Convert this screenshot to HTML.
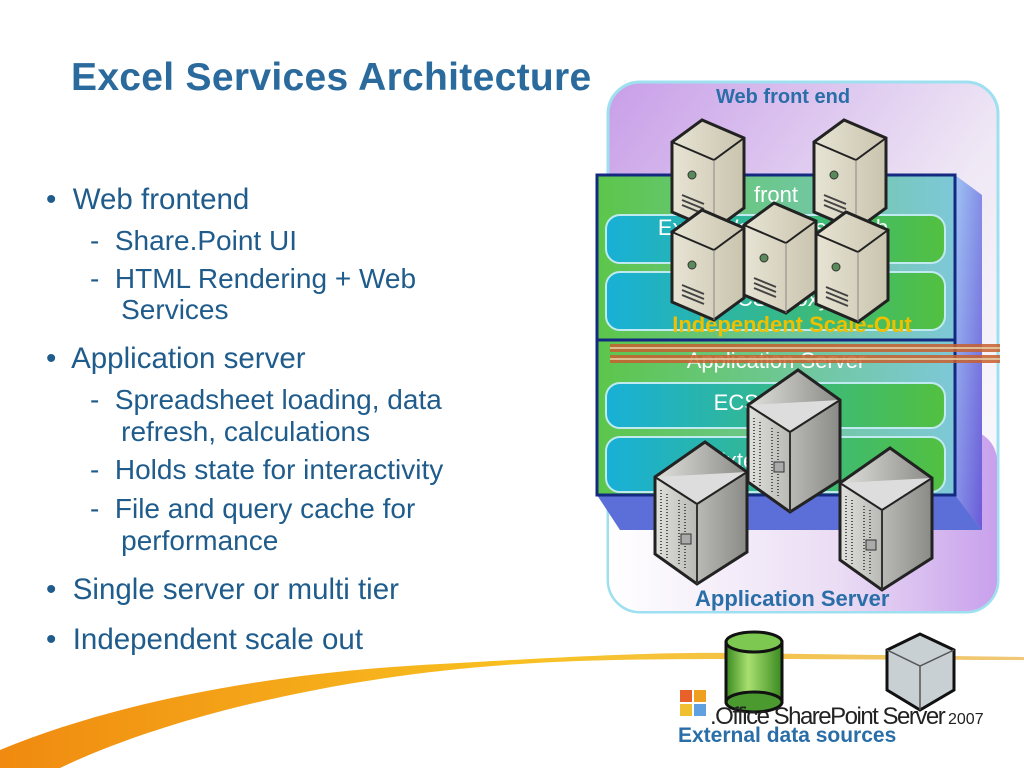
<!DOCTYPE html>
<html><head><style>
body{margin:0;width:1024px;height:768px;background:#fff;position:relative;overflow:hidden;font-family:"Liberation Sans",Arial,sans-serif;color:#1f5c8c}
.a{position:absolute;white-space:nowrap}
.t{font-size:29.5px;line-height:32px}
.s{font-size:28px}
</style></head><body>
<svg class="a" style="left:0;top:0" width="1024" height="768">
<defs>
<linearGradient id="pg" x1="0" y1="0" x2="1" y2="1"><stop offset="0" stop-color="#c89ee8"/><stop offset="0.55" stop-color="#efe8f5"/><stop offset="1" stop-color="#ffffff"/></linearGradient>
<linearGradient id="pg2" x1="0" y1="0" x2="1" y2="0"><stop offset="0" stop-color="#fff"/><stop offset="0.6" stop-color="#eadcf4"/><stop offset="1" stop-color="#c8a0ec"/></linearGradient>
<linearGradient id="gg" x1="0" y1="0" x2="1" y2="0"><stop offset="0" stop-color="#5cc64a"/><stop offset="1" stop-color="#7ec8d8"/></linearGradient>
<linearGradient id="bb" x1="0" y1="0" x2="1" y2="0"><stop offset="0" stop-color="#18b0d8"/><stop offset="1" stop-color="#52c040"/></linearGradient>
<linearGradient id="side" x1="0" y1="0" x2="1" y2="1"><stop offset="0" stop-color="#9fc4f4"/><stop offset="1" stop-color="#6a5ad8"/></linearGradient>
<linearGradient id="sw" x1="0" y1="0" x2="1" y2="0"><stop offset="0" stop-color="#f08a10"/><stop offset="0.5" stop-color="#f8c020"/><stop offset="1" stop-color="#f0c878"/></linearGradient>
<linearGradient id="beige" x1="0" y1="0" x2="1" y2="0"><stop offset="0" stop-color="#e8e4d4"/><stop offset="1" stop-color="#c9c4ae"/></linearGradient>
<linearGradient id="gray" x1="0" y1="0" x2="1" y2="0"><stop offset="0" stop-color="#e0e0dc"/><stop offset="1" stop-color="#8a8a86"/></linearGradient>
<linearGradient id="cyl" x1="0" y1="0" x2="1" y2="0"><stop offset="0" stop-color="#3a8a20"/><stop offset="0.4" stop-color="#a8e070"/><stop offset="1" stop-color="#3a8a20"/></linearGradient>
<g id="ws"><path d="M0,22 L30,0 L72,18 L72,88 L42,110 L0,92Z" fill="url(#beige)" stroke="#222" stroke-width="3"/><path d="M0,22 L42,40 L72,18" fill="none" stroke="#222" stroke-width="2"/><path d="M42,40 L42,110" stroke="#888" stroke-width="1"/><circle cx="20" cy="55" r="4" fill="#5a8a5a" stroke="#333"/><path d="M10,75 L32,84 M10,80 L32,89 M10,85 L32,94" stroke="#444" stroke-width="2"/></g>
<g id="as"><path d="M0,35 L50,0 L92,30 L92,110 L42,142 L0,112Z" fill="url(#gray)" stroke="#222" stroke-width="3"/><path d="M0,35 L42,62 L92,30" fill="#ddd" stroke="#222" stroke-width="2"/><path d="M42,62 L42,142" stroke="#333" stroke-width="2"/><path d="M6,48 L6,112 M12,52 L12,116 M24,58 L24,122 M30,62 L30,126" stroke="#555" stroke-width="2" stroke-dasharray="1,2"/><rect x="26" y="92" width="10" height="10" fill="#aaa" stroke="#333"/></g>
</defs>
<path d="M0,768 L0,750 C120,700 280,672 440,664 C580,656 660,652 730,653 L1024,657 L1024,660 C800,660 640,656 520,664 C330,676 160,720 60,768Z" fill="url(#sw)"/>
<rect x="608" y="82" width="390" height="530" rx="32" fill="url(#pg)" stroke="#9fe0f0" stroke-width="3"/>
<rect x="609" y="430" width="388" height="181" rx="31" fill="url(#pg2)"/>
<path d="M955,175 L982,195 L982,530 L955,495Z" fill="url(#side)"/>
<path d="M597,495 L955,495 L982,530 L620,530Z" fill="#5c6ed8"/>
<rect x="597" y="175" width="358" height="320" fill="url(#gg)" stroke="#142a80" stroke-width="3"/>
<line x1="597" y1="340" x2="955" y2="340" stroke="#142a80" stroke-width="3"/>
<rect x="606" y="215" width="339" height="48" rx="14" fill="url(#bb)" stroke="#bfeaf0" stroke-width="2"/>
<rect x="606" y="272" width="339" height="58" rx="14" fill="url(#bb)" stroke="#bfeaf0" stroke-width="2"/>
<rect x="606" y="383" width="339" height="45" rx="14" fill="url(#bb)" stroke="#bfeaf0" stroke-width="2"/>
<rect x="606" y="437" width="339" height="55" rx="14" fill="url(#bb)" stroke="#bfeaf0" stroke-width="2"/>
<g fill="#fff" font-size="22" text-anchor="middle" font-family="Liberation Sans,sans-serif">
<text x="776" y="202">front</text>
<text x="773" y="235">Excel Web access  Web</text><text x="773" y="257">services</text>
<text x="776" y="306">ECS Proxy</text>
<text x="776" y="368">Application Server</text>
<text x="776" y="410">ECS Service</text>
<text x="776" y="468">External data</text>
</g>
<g fill="#c86030" opacity="0.85"><rect x="610" y="344" width="390" height="8"/><rect x="610" y="355" width="390" height="8"/></g>
<g stroke="#e8d8b0" stroke-width="1.5"><path d="M610,348 H1000 M610,359 H1000" /></g>
<text x="792" y="332" fill="#f0c000" font-size="22" font-weight="bold" text-anchor="middle" font-family="Liberation Sans,sans-serif">Independent Scale-Out</text>
<use href="#ws" x="672" y="120"/><use href="#ws" x="814" y="120"/>
<use href="#ws" x="672" y="210"/><use href="#ws" x="744" y="203"/><use href="#ws" x="816" y="212"/>
<use href="#as" x="748" y="370"/><use href="#as" x="655" y="442"/><use href="#as" x="840" y="448"/>
<rect x="726" y="642" width="56" height="60" fill="url(#cyl)" stroke="#111" stroke-width="3"/>
<ellipse cx="754" cy="702" rx="28" ry="10" fill="#4a9a30" stroke="#111" stroke-width="3"/>
<ellipse cx="754" cy="642" rx="28" ry="10" fill="#7cc850" stroke="#111" stroke-width="3"/>
<path d="M887,650 L920,634 L954,650 L954,690 L920,710 L887,690Z" fill="#c8d0d4" stroke="#111" stroke-width="3"/>
<path d="M887,650 L920,666 L954,650 M920,666 L920,710" fill="none" stroke="#555" stroke-width="1.5"/>
<rect x="680" y="690" width="12" height="12" fill="#e8602a"/><rect x="694" y="690" width="12" height="12" fill="#f0a020"/><rect x="680" y="704" width="12" height="12" fill="#f0c030"/><rect x="694" y="704" width="12" height="12" fill="#60a0e0"/>
<text x="710" y="724" font-size="24" fill="#222" font-family="Liberation Sans,sans-serif" letter-spacing="-1.5">.Office SharePoint Server</text>
<text x="948" y="724" font-size="16" fill="#222" font-family="Liberation Sans,sans-serif">2007</text>
</svg>
<div class="a" style="left:716px;top:86px;font-size:20px;font-weight:bold;color:#2a6ea8">Web front end</div>
<div class="a" style="left:695px;top:586px;font-size:22px;font-weight:bold;color:#2a6ea8">Application Server</div>
<div class="a" style="left:678px;top:724px;font-size:21px;font-weight:bold;color:#2a6ea8">External data sources</div>
<div class="a" style="left:71px;top:56px;font-size:39px;font-weight:bold;color:#2a6a9c;letter-spacing:0.3px">Excel Services Architecture</div>
<div class="a t" style="left:46px;top:184px">•&nbsp; Web frontend</div>
<div class="a s" style="left:90px;top:224px;line-height:34px">-&nbsp; Share.Point UI</div>
<div class="a s" style="left:90px;top:263px;line-height:31px">-&nbsp; HTML Rendering + Web<br>&nbsp;&nbsp;&nbsp; Services</div>
<div class="a t" style="left:46px;top:343px">•&nbsp; Application server</div>
<div class="a s" style="left:90px;top:384px;line-height:32px">-&nbsp; Spreadsheet loading, data<br>&nbsp;&nbsp;&nbsp; refresh, calculations</div>
<div class="a s" style="left:90px;top:454px;line-height:32px">-&nbsp; Holds state for interactivity</div>
<div class="a s" style="left:90px;top:493px;line-height:32px">-&nbsp; File and query cache for<br>&nbsp;&nbsp;&nbsp; performance</div>
<div class="a t" style="left:46px;top:574px">•&nbsp; Single server or multi tier</div>
<div class="a t" style="left:46px;top:624px">•&nbsp; Independent scale out</div>
</body></html>
